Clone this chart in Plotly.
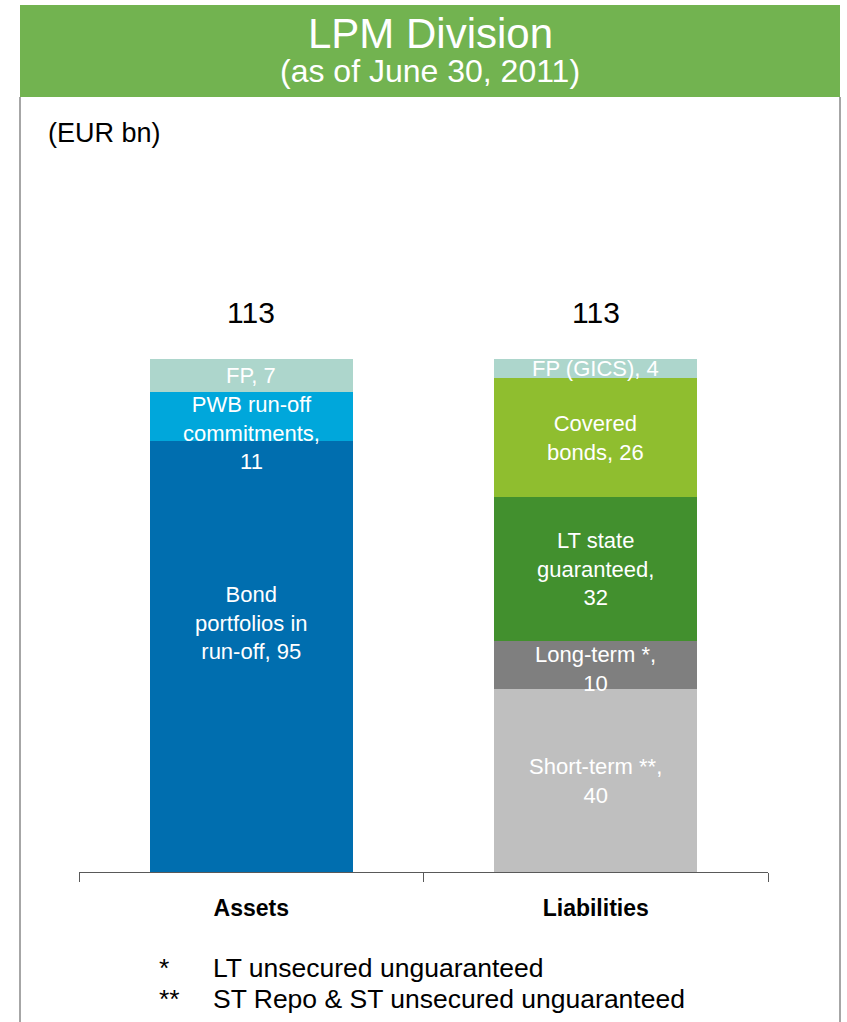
import plotly.graph_objects as go

# ---------------- data ----------------
categories = ["Assets", "Liabilities"]

asset_segments = ["Bond portfolios in run-off", "PWB run-off commitments", "FP"]
asset_values = [94.9, 10.8, 7.3]
asset_labels = ["Bond<br>portfolios in<br>run-off, 95", "PWB run-off<br>commitments,<br>11", "FP, 7"]
asset_colors = ["#006EAF", "#00A7DB", "#ADD6CC"]
asset_label_shift = [34, -16, 0]

liab_segments = ["Short-term", "Long-term", "LT state guaranteed", "Covered bonds", "FP (GICS)"]
liab_values = [40.3, 10.6, 31.7, 26.2, 4.2]
liab_labels = ["Short-term **,<br>40", "Long-term *,<br>10", "LT state<br>guaranteed,<br>32",
               "Covered<br>bonds, 26", "FP (GICS), 4"]
liab_colors = ["#BFBFBF", "#7F7F7F", "#42902E", "#8FBE2F", "#ADD6CC"]
liab_label_shift = [0, -4, 0, 0, 0]

totals = [113, 113]

footnote_marks = ["*", "**"]
footnote_texts = ["LT unsecured unguaranteed", "ST Repo & ST unsecured unguaranteed"]

# ---------------- layout geometry ----------------
W, H = 847, 1022
ML, MR, MT, MB = 79, 79, 150, 150
PLOT_H = H - MT - MB
PLOT_W = W - ML - MR
FONT = "Liberation Sans, Arial, sans-serif"


def px_y(py):
    return (H - MB - py) / PLOT_H


def px_x(px):
    return (px - ML) / PLOT_W


fig = go.Figure()
annotations = []

groups = [
    (categories[0], asset_segments, asset_values, asset_labels, asset_colors, asset_label_shift),
    (categories[1], liab_segments, liab_values, liab_labels, liab_colors, liab_label_shift),
]
for cat, segs, vals, labs, cols, shifts in groups:
    base = 0.0
    for s, v, lab, c, sh in zip(segs, vals, labs, cols, shifts):
        fig.add_trace(go.Bar(x=[cat], y=[v], name=s, marker=dict(color=c, line=dict(width=0)),
                             showlegend=False, hoverinfo="name+y"))
        annotations.append(dict(x=cat, y=base + v / 2, xref="x", yref="y", text=lab,
                                showarrow=False, yshift=sh, xanchor="center", yanchor="middle",
                                font=dict(family=FONT, size=22, color="white")))
        base += v

for cat, t in zip(categories, totals):
    annotations.append(dict(x=cat, y=t, xref="x", yref="y", text=str(t), showarrow=False,
                            xanchor="center", yanchor="bottom", yshift=28,
                            font=dict(family=FONT, size=30, color="black")))

# header
annotations.append(dict(x=px_x(430), y=px_y(34), xref="paper", yref="paper", text="LPM Division",
                        xanchor="center", yanchor="middle", showarrow=False,
                        font=dict(family=FONT, size=42, color="white")))
annotations.append(dict(x=px_x(430), y=px_y(71), xref="paper", yref="paper",
                        text="(as of June 30, 2011)", xanchor="center", yanchor="middle",
                        showarrow=False, font=dict(family=FONT, size=32, color="white")))
annotations.append(dict(x=px_x(46), y=px_y(133), xref="paper", yref="paper", text="(EUR bn)",
                        xanchor="left", yanchor="middle", showarrow=False,
                        font=dict(family=FONT, size=27, color="black")))

for i, (m, t) in enumerate(zip(footnote_marks, footnote_texts)):
    yy = px_y(968 + 31 * i)
    annotations.append(dict(x=px_x(157), y=yy, xref="paper", yref="paper", text=m,
                            xanchor="left", yanchor="middle",
                            showarrow=False, font=dict(family=FONT, size=26.5, color="black")))
    annotations.append(dict(x=px_x(211), y=yy, xref="paper", yref="paper", text=t,
                            xanchor="left", yanchor="middle",
                            showarrow=False, font=dict(family=FONT, size=26.5, color="black")))

shapes = [
    dict(type="rect", xref="paper", yref="paper", x0=px_x(20), x1=px_x(840), y0=px_y(97), y1=px_y(5),
         fillcolor="#72B350", line=dict(width=0), layer="below"),
    dict(type="line", xref="paper", yref="paper", x0=px_x(20), x1=px_x(20), y0=px_y(97), y1=px_y(1022),
         line=dict(color="#A6A6A6", width=2)),
    dict(type="line", xref="paper", yref="paper", x0=px_x(840), x1=px_x(840), y0=px_y(97), y1=px_y(1022),
         line=dict(color="#A6A6A6", width=2)),
]

ymax = totals[0] * PLOT_H / (H - MB - 359)

fig.update_layout(
    width=W, height=H,
    margin=dict(l=ML, r=MR, t=MT, b=MB, pad=0),
    barmode="stack", bargap=0.411,
    paper_bgcolor="white", plot_bgcolor="white",
    annotations=annotations, shapes=shapes,
    xaxis=dict(type="category", categoryorder="array", categoryarray=categories,
               showline=True, linecolor="#595959", linewidth=1,
               ticks="outside", tickson="boundaries", ticklen=9, tickcolor="#595959",
               tickfont=dict(family=FONT, size=23, color="black", weight="bold"),
               ticklabelstandoff=15, showgrid=False, zeroline=False, fixedrange=True),
    yaxis=dict(range=[0, ymax], visible=False, showgrid=False, zeroline=False, fixedrange=True),
    font=dict(family=FONT),
)

fig.write_html("out.html", config={"displayModeBar": False},
               post_script="document.body.style.margin='0px';")
